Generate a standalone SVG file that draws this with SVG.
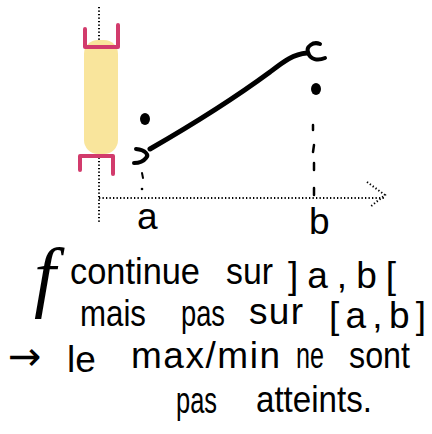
<svg xmlns="http://www.w3.org/2000/svg" width="432" height="434" viewBox="0 0 432 434">
<style>
.dot{fill:none;stroke:#000;stroke-width:2;stroke-dasharray:1.3 2.2}
.ink{fill:none;stroke:#000;stroke-linecap:round;stroke-linejoin:round}
.pink{fill:none;stroke:#d23b6c;stroke-width:4;stroke-linecap:round;stroke-linejoin:round}
.t{font-family:"Liberation Sans","DejaVu Sans",sans-serif;font-size:37px;fill:#000}
.c{font-family:"Liberation Sans","DejaVu Sans",sans-serif;font-size:37px;fill:#000}
</style>
<rect width="432" height="434" fill="#fff"/>
<g id="axes">
<line class="dot" x1="99" y1="7" x2="99" y2="223"/>
<line class="dot" x1="99" y1="198" x2="385" y2="198"/>
<polyline class="dot" points="367,182 385,195 370,207"/>
</g>
<g id="interval">
<rect x="84" y="40" width="34" height="114" rx="14" fill="#f9e59c"/>
<path class="pink" d="M85,29 V47 H118 V25"/>
<path class="pink" d="M80,170 V156 H113 V174"/>
</g>
<g id="curve">
<path class="ink" stroke-width="5" d="M150,149 C190,126 232,100 270,72 C283,62 293,54 307,53"/>
<path class="ink" stroke-width="4" d="M136,149 C146,150 149,155 146,158 C143,162 138,163 134,163"/>
<path class="ink" stroke-width="4" d="M320,44 C313,41 306,47 308,52 C310,60 318,61 325,58"/>
<ellipse cx="145" cy="119" rx="5" ry="6" fill="#000"/>
<ellipse cx="316" cy="89" rx="5" ry="6" fill="#000"/>
<path class="ink" stroke-width="2" d="M142,173 L143,178"/>
<circle cx="142" cy="189" r="1.3" fill="#000"/>
<path class="ink" stroke-width="2.5" d="M313,125 V130 M314,145 L313,152 M314,163 V170 M314,188 V195"/>
</g>
<g id="labels">
<text class="t" x="137" y="229" font-size="30">a</text>
<text class="t" x="309" y="234" font-size="30">b</text>
</g>
<g id="note">
<text x="34" y="302" font-family="'Liberation Serif',serif" font-style="italic" font-size="78">f</text>
<text class="c" x="70" y="284" textLength="130" lengthAdjust="spacingAndGlyphs">continue</text>
<text class="c" x="226" y="284" textLength="47" lengthAdjust="spacingAndGlyphs">sur</text>
<text class="t" x="288" y="288" font-size="40" textLength="108">]a,b[</text>
<text class="c" x="80" y="326" textLength="66" lengthAdjust="spacingAndGlyphs">mais</text>
<text class="c" x="181" y="326" textLength="44" lengthAdjust="spacingAndGlyphs">pas</text>
<text class="t" x="249" y="324" textLength="54">sur</text>
<text class="t" x="329" y="328" font-size="40" textLength="97">[a,b]</text>
<text x="8" y="370" font-family="'DejaVu Sans',sans-serif" font-size="40">→</text>
<text class="t" x="67" y="372" font-size="42">le</text>
<text class="t" x="131" y="368" textLength="149">max/min</text>
<text class="c" x="296" y="368" textLength="28" lengthAdjust="spacingAndGlyphs">ne</text>
<text class="c" x="349" y="368" textLength="61" lengthAdjust="spacingAndGlyphs">sont</text>
<text class="c" x="176" y="413" textLength="41" lengthAdjust="spacingAndGlyphs">pas</text>
<text class="c" x="256" y="412" textLength="116" lengthAdjust="spacingAndGlyphs">atteints.</text>
</g>
</svg>
